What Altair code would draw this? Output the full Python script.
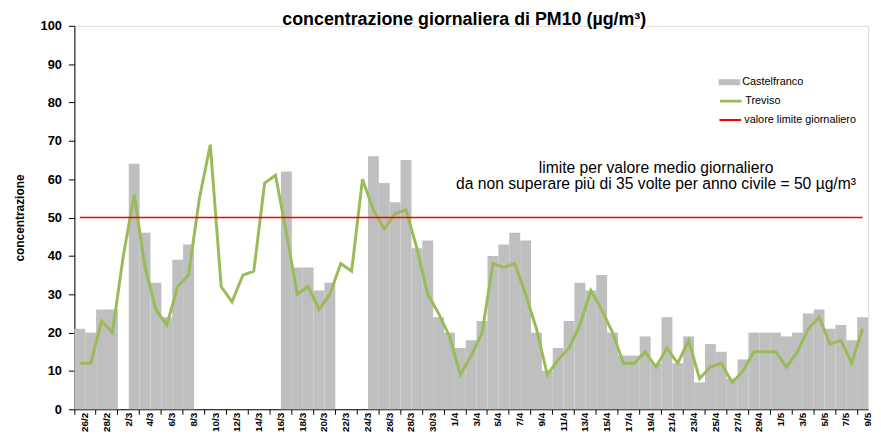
import altair as alt
import pandas as pd

dates = ["26/2", "27/2", "28/2",
         "1/3", "2/3", "3/3", "4/3", "5/3", "6/3", "7/3", "8/3", "9/3", "10/3",
         "11/3", "12/3", "13/3", "14/3", "15/3", "16/3", "17/3", "18/3", "19/3", "20/3",
         "21/3", "22/3", "23/3", "24/3", "25/3", "26/3", "27/3", "28/3", "29/3", "30/3", "31/3",
         "1/4", "2/4", "3/4", "4/4", "5/4", "6/4", "7/4", "8/4", "9/4", "10/4",
         "11/4", "12/4", "13/4", "14/4", "15/4", "16/4", "17/4", "18/4", "19/4", "20/4",
         "21/4", "22/4", "23/4", "24/4", "25/4", "26/4", "27/4", "28/4", "29/4", "30/4",
         "1/5", "2/5", "3/5", "4/5", "5/5", "6/5", "7/5", "8/5", "9/5"]

castelfranco = [21, 20, 26,
                26, None, 64, 46, 33, 24, 39, 43, None, None,
                None, None, None, None, None, None, 62, 37, 37, 31,
                33, None, None, None, 66, 59, 54, 65, 42, 44, 24,
                20, 16, 18, 23, 40, 43, 46, 44, 20, 10,
                16, 23, 33, 31, 35, 20, 14, 14, 19, 12,
                24, 12, 19, 7, 17, 15, 8, 13, 20, 20,
                20, 19, 20, 25, 26, 21, 22, 18, 24]

treviso = [12, 12, 23,
           20, 40, 56, 37, 26, 22, 32, 35, 55, 69,
           32, 28, 35, 36, 59, 61, 46, 30, 32, 26,
           30, 38, 36, 60, 52, 47, 51, 52, 42, 30, 25,
           19, 9, 14, 20, 38, 37, 38, 30, 21, 9,
           13, 16, 22, 31, 26, 20, 12, 12, 15, 11,
           16, 12, 18, 8, 11, 12, 7, 10, 15, 15,
           15, 11, 15, 21, 24, 17, 18, 12, 21]

limit_value = 50
limit = [limit_value] * len(dates)

series_names = ["Castelfranco", "Treviso", "valore limite giornaliero"]
series_colors = ["#bfbfbf", "#9bbb59", "#ff0000"]

y_ticks = [0, 10, 20, 30, 40, 50, 60, 70, 80, 90, 100]
x_tick_labels = dates[::2]

note_lines = ["limite per valore medio giornaliero",
              "da non superare più di 35 volte per anno civile = 50 µg/m³"]
note_anchor_date = ["20/4"]
note_anchor_value = [61.6]

df_c = pd.DataFrame({"date": dates, "value": castelfranco, "series": series_names[0]})
df_t = pd.DataFrame({"date": dates, "value": treviso, "series": series_names[1]})
df_l = pd.DataFrame({"date": dates, "value": limit, "series": series_names[2]})
df_n = pd.DataFrame({"date": note_anchor_date, "value": note_anchor_value})

FONT = "Liberation Sans"
PLOT_W = 801
BAND = PLOT_W / len(dates)

x_axis = alt.Axis(
    title=None, values=x_tick_labels, bandPosition=0, labelOffset=BAND / 2,
    labelAngle=-90, labelFontSize=10, labelFontWeight="bold", labelColor="black",
    labelPadding=-2, tickSize=5, tickColor="black", domainColor="black",
    grid=False, labelFont=FONT,
)
y_axis = alt.Axis(
    title="concentrazione", values=y_ticks, grid=False, tickSize=6, tickColor="black",
    domainColor="black", labelPadding=7, labelFontSize=13, labelFontWeight="bold",
    labelColor="black", titleFontSize=12, titleFontWeight="bold", titleColor="black",
    titlePadding=14, labelFont=FONT, titleFont=FONT,
)

x_enc = alt.X("date:O", scale=alt.Scale(domain=dates, paddingInner=0, paddingOuter=0), axis=x_axis)
y_enc = alt.Y("value:Q", scale=alt.Scale(domain=[0, 100], nice=False), axis=y_axis)


def make_legend(row, symbol_type, stroke_width):
    return alt.Legend(
        title=None, orient="none", legendX=650, legendY=49 + 19 * row, padding=0,
        symbolType=symbol_type, symbolSize=484, symbolStrokeWidth=stroke_width,
        symbolOpacity=1, clipHeight=16, labelOffset=2,
        labelFontSize=11, labelFont=FONT, labelColor="black",
    )


def color_for(i, legend):
    return alt.Color(
        "series:N",
        scale=alt.Scale(domain=[series_names[i]], range=[series_colors[i]]),
        legend=legend,
    )


bars = alt.Chart(df_c).mark_bar(strokeWidth=0).encode(
    x=x_enc, y=y_enc,
    color=color_for(0, make_legend(0, "M-1,-0.27H1V0.27H-1Z", 0)),
)
line_t = alt.Chart(df_t).mark_line(strokeWidth=3).encode(
    x=x_enc, y=y_enc,
    color=color_for(1, make_legend(1, "stroke", 3)),
)
line_l = alt.Chart(df_l).mark_line(strokeWidth=1.6).encode(
    x=x_enc, y=y_enc,
    color=color_for(2, make_legend(2, "stroke", 2)),
)
note = alt.Chart(df_n).mark_text(
    text=note_lines, fontSize=15.8, font=FONT, align="center", baseline="alphabetic",
    lineHeight=16.6, color="black",
).encode(x=x_enc, y=y_enc)

chart = alt.layer(bars, line_t, line_l, note).resolve_scale(color="independent").properties(
    width=PLOT_W, height=387,
    title=alt.TitleParams(
        "concentrazione giornaliera di PM10 (µg/m³)", fontSize=18, fontWeight="bold",
        font=FONT, color="black", anchor="middle", frame="group",
        offset=-9, dx=-7,
    ),
    padding={"left": 67, "top": 16, "right": 5, "bottom": 24},
    autosize=alt.AutoSizeParams(type="none"),
).configure_view(stroke="transparent").configure(font=FONT)

chart.save("out.html", embed_options={"renderer": "svg", "actions": False})
